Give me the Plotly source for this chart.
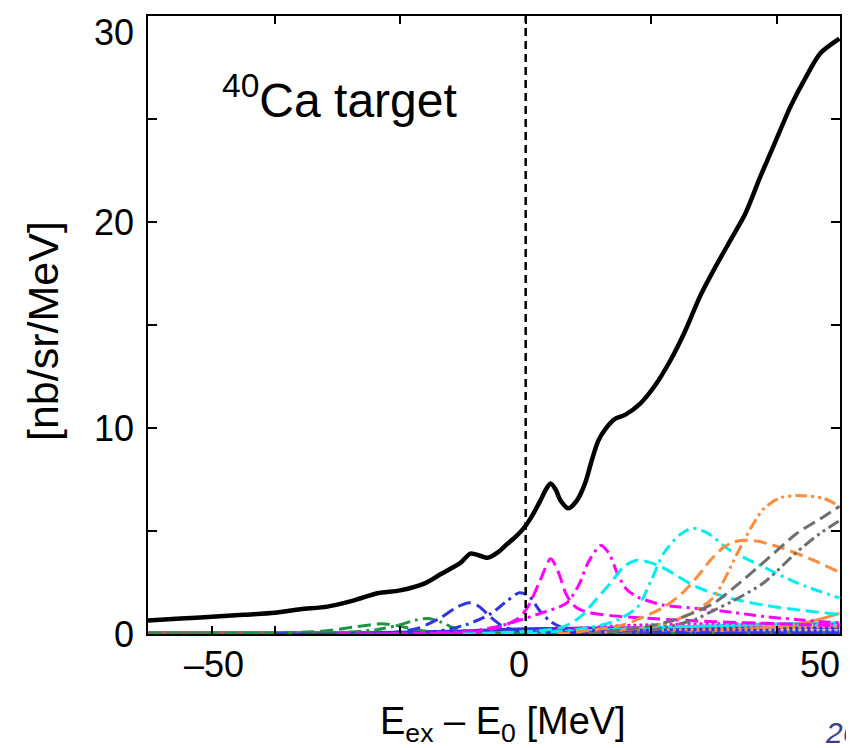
import plotly.graph_objects as go

# ---------------- data ----------------
E_TOTAL = [-60.2, -55, -50, -45, -40, -35.9, -31.6, -27.5, -23.6, -20, -16, -13.6, -10.4, -8.8, -7.3, -6.1,
           -4.5, -3.2, -1.5, -0.4, 0.75, 2.3, 3.2, 3.95, 4.8, 5.5, 6.8, 8.2, 9.5, 10.5, 11.6, 12.7, 14.3,
           15.9, 18.3, 20.7, 23.1, 25.4, 27.8, 30.3, 32.6, 35.0, 37.4, 39.8, 42.2, 44.6, 47.0, 50.0]
V_TOTAL = [0.66, 0.75, 0.84, 0.93, 1.03, 1.2, 1.33, 1.62, 1.98, 2.12, 2.47, 2.9, 3.45, 3.9, 3.8, 3.7,
           3.95, 4.3, 4.75, 5.1, 5.6, 6.45, 7.0, 7.3, 7.0, 6.5, 6.1, 6.5, 7.35, 8.4, 9.4, 9.95, 10.45,
           10.65, 11.2, 12.1, 13.3, 14.7, 16.4, 17.85, 19.1, 20.4, 22.2, 23.9, 25.6, 27.0, 28.2, 28.9]

G_DASH_E = [-60, -40, -32, -27, -23, -20, -17, -13, -8, 0, 20, 50]
G_DASH_V = [0.0, 0.04, 0.15, 0.35, 0.5, 0.38, 0.18, 0.06, 0.03, 0.02, 0.01, 0.01]
G_DD_E = [-60, -32, -24, -20, -17.5, -15.5, -13.5, -11.5, -9, -5, 10, 50]
G_DD_V = [0.0, 0.04, 0.2, 0.45, 0.68, 0.75, 0.58, 0.3, 0.12, 0.05, 0.02, 0.01]

B_DASH_E = [-40, -22, -17, -13.5, -11, -9, -7.5, -5.5, -3.5, -1, 5, 20, 50]
B_DASH_V = [0.0, 0.05, 0.3, 0.8, 1.3, 1.52, 1.35, 0.8, 0.35, 0.15, 0.08, 0.04, 0.02]
B_DD_E = [-40, -15, -9.5, -5.5, -3, -1, 0.5, 2.3, 4, 6, 10, 20, 50]
B_DD_V = [0.0, 0.1, 0.45, 1.0, 1.6, 2.0, 1.85, 1.1, 0.6, 0.3, 0.15, 0.08, 0.03]

M_DASH_E = [-30, -8, -4, -1, 0.5, 2.3, 4, 5.2, 6.5, 8, 10, 14, 20, 30, 40, 50]
M_DASH_V = [0.0, 0.1, 0.35, 0.8, 1.4, 2.6, 3.65, 3.0, 1.9, 1.3, 1.05, 0.88, 0.75, 0.6, 0.5, 0.4]
M_DD_E = [-30, -10, -4, 2.3, 6.5, 8.5, 10, 12, 13.3, 14.6, 16, 17.8, 22, 27, 33, 38, 44, 50]
M_DD_V = [0.0, 0.1, 0.4, 1.0, 1.5, 2.4, 3.5, 4.3, 3.9, 2.95, 2.2, 1.8, 1.4, 1.25, 1.05, 0.85, 0.68, 0.53]

C_DASH_E = [-10, 2, 6, 8.7, 11, 13.5, 15.8, 17.8, 20, 22, 27.3, 32.6, 38, 44, 50]
C_DASH_V = [0.0, 0.15, 0.35, 0.83, 1.6, 2.47, 3.3, 3.58, 3.45, 3.2, 2.28, 1.74, 1.4, 1.15, 0.95]
C_DD_E = [0, 10, 14.6, 17.8, 20, 22, 24.5, 26.5, 29, 32.6, 38, 43.3, 50]
C_DD_V = [0.0, 0.3, 0.68, 1.3, 2.6, 3.92, 4.8, 5.13, 4.9, 4.06, 3.24, 2.47, 1.75]

O_DASH_E = [5, 15, 18.8, 22, 25, 27.3, 29.5, 31.5, 33, 34.7, 37, 40.6, 45.9, 50]
O_DASH_V = [0.0, 0.4, 0.83, 1.3, 2.0, 2.76, 3.6, 4.2, 4.45, 4.55, 4.5, 4.2, 3.58, 3.0]
O_DDD_E = [10, 22, 26.3, 30, 33.7, 36, 38, 40.5, 43.3, 47.5, 50]
O_DDD_V = [0.0, 0.5, 1.0, 1.8, 3.9, 5.2, 6.1, 6.6, 6.72, 6.58, 6.2]

GR_DASH_E = [10, 20, 24.6, 30, 33, 38, 43.3, 47, 50]
GR_DASH_V = [0.0, 0.4, 0.77, 1.5, 2.2, 3.5, 4.9, 5.6, 6.2]
GR_DDD_E = [15, 22, 27.3, 30, 33, 38, 43.3, 47, 50]
GR_DDD_V = [0.0, 0.3, 0.75, 1.15, 1.6, 2.5, 4.0, 4.9, 5.5]

# small contributions along the bottom
LOW_B_E, LOW_B_V = [-30, -10, 0, 20, 50], [0.02, 0.15, 0.25, 0.3, 0.3]
LOW_C_E, LOW_C_V = [-10, 5, 20, 35, 50], [0.0, 0.1, 0.3, 0.45, 0.55]
LOW_O_E, LOW_O_V = [10, 30, 40, 46, 50], [0.0, 0.15, 0.35, 0.65, 1.0]
DOT_M_E, DOT_M_V = [0, 15, 30, 50], [0.1, 0.4, 0.5, 0.45]
DOT_C_E, DOT_C_V = [5, 20, 35, 50], [0.1, 0.3, 0.45, 0.4]
DOT_O_E, DOT_O_V = [10, 30, 50], [0.05, 0.25, 0.35]
DOT_B_E, DOT_B_V = [0, 25, 50], [0.1, 0.2, 0.15]
BASE_R_E, BASE_R_V = [-60.2, 50], [0.03, 0.05]
BASE_G_E, BASE_G_V = [-60.2, 50], [0.1, 0.12]

X_TICKS_BOTTOM = [-50, -40, -20, 0, 20, 40]
X_TICKS_TOP = [-40, -20, 0, 20, 40]
X_LABEL_VALUES = [-50, 0, 50]
X_LABEL_TEXT = ["\u201350", "0", "50"]
X_LABEL_SHIFT = [2, -7, -19]
Y_LABEL_VALUES = [0, 10, 20, 30]
Y_LABEL_TEXT = ["0", "10", "20", "30"]
Y_LABEL_SHIFT = [0, 0, 0, -16]
E_THRESHOLD = 0

# ---------------- styles ----------------
BLUE = "#2f35e6"
MAG = "#ff00ff"
CYAN = "#00eeee"
ORANGE = "#ff8c3a"
GRAY = "#6e6e6e"
GREEN = "#1e9447"
DASH = "13px,6px"
DASHDOT = "12px,5px,3px,5px"
DASHDOTDOT = "12px,4px,3px,4px,3px,4px"
DOT = "3px,3px"
FONT = "Liberation Sans, Arial, sans-serif"
LW = 3

fig = go.Figure()


def add(x, y, color, dash, width=LW):
    fig.add_trace(go.Scatter(x=x, y=y, mode="lines", showlegend=False, hoverinfo="skip",
                             line=dict(color=color, width=width, dash=dash, shape="spline", smoothing=0.8)))


add(BASE_G_E, BASE_G_V, "#777777", "solid", 2)
add(BASE_R_E, BASE_R_V, "#e0406a", "solid", 2)
add(LOW_B_E, LOW_B_V, BLUE, "solid")
add(LOW_C_E, LOW_C_V, CYAN, "solid")
add(LOW_O_E, LOW_O_V, ORANGE, "solid")
add(DOT_M_E, DOT_M_V, MAG, DOT)
add(DOT_C_E, DOT_C_V, CYAN, DOT)
add(DOT_O_E, DOT_O_V, ORANGE, DOT)
add(DOT_B_E, DOT_B_V, BLUE, DOT)

add(G_DASH_E, G_DASH_V, GREEN, DASH)
add(G_DD_E, G_DD_V, GREEN, DASHDOT)
add(B_DASH_E, B_DASH_V, BLUE, DASH)
add(B_DD_E, B_DD_V, BLUE, DASHDOT)
add(M_DASH_E, M_DASH_V, MAG, DASH)
add(M_DD_E, M_DD_V, MAG, DASHDOT)
add(C_DASH_E, C_DASH_V, CYAN, DASH)
add(C_DD_E, C_DD_V, CYAN, DASHDOT)
add(O_DASH_E, O_DASH_V, ORANGE, DASH)
add(O_DDD_E, O_DDD_V, ORANGE, DASHDOTDOT)
add(GR_DASH_E, GR_DASH_V, GRAY, DASH)
add(GR_DDD_E, GR_DDD_V, GRAY, DASHDOTDOT)

add(E_TOTAL, V_TOTAL, "black", "solid", 4.5)

# invisible trace for top axis
fig.add_trace(go.Scatter(x=[E_THRESHOLD], y=[0], xaxis="x2", mode="markers", marker=dict(opacity=0),
                         showlegend=False, hoverinfo="skip"))

fig.add_shape(type="line", xref="x", yref="paper", x0=E_THRESHOLD, x1=E_THRESHOLD, y0=0, y1=1,
              line=dict(color="black", width=2.5, dash="8px,5px"))

X_RANGE = [-60.2, 50.1]
# the page adds an 8px body margin, so the figure is 8px smaller on each axis
fig.update_layout(
    width=846, height=740,
    margin=dict(l=140, r=14, t=6, b=114),
    paper_bgcolor="white", plot_bgcolor="white",
    xaxis=dict(range=X_RANGE, showgrid=False, zeroline=False, showline=True, linecolor="black",
               linewidth=2, mirror=True, ticks="inside", ticklen=8, tickwidth=1.5, tickcolor="black",
               tickvals=X_TICKS_BOTTOM, showticklabels=False),
    xaxis2=dict(range=X_RANGE, overlaying="x", side="top", anchor="y", showgrid=False, zeroline=False,
                showline=False, ticks="inside", ticklen=8, tickwidth=1.5, tickcolor="black",
                tickvals=X_TICKS_TOP, showticklabels=False),
    yaxis=dict(range=[0, 30], showgrid=False, zeroline=False, showline=True, linecolor="black",
               linewidth=2, mirror="ticks", ticks="inside", ticklen=9, tickwidth=1.5, tickcolor="black",
               dtick=5, showticklabels=False),
)

for v, t, s in zip(X_LABEL_VALUES, X_LABEL_TEXT, X_LABEL_SHIFT):
    fig.add_annotation(x=v, y=-0.05, xref="x", yref="paper", text=t, showarrow=False, xshift=s,
                       xanchor="center", yanchor="middle", font=dict(family=FONT, size=36, color="black"))
for v, t, s in zip(Y_LABEL_VALUES, Y_LABEL_TEXT, Y_LABEL_SHIFT):
    fig.add_annotation(x=-0.017, y=v, xref="paper", yref="y", text=t, showarrow=False, yshift=s,
                       xanchor="right", yanchor="middle", font=dict(family=FONT, size=36, color="black"))

fig.add_annotation(x=0.513, y=-0.145, xref="paper", yref="paper", showarrow=False,
                   text="E<sub>ex</sub> \u2013 E<sub>0</sub> [MeV]", xanchor="center", yanchor="middle",
                   font=dict(family=FONT, size=38, color="black"))
fig.add_annotation(x=-0.152, y=0.49, xref="paper", yref="paper", showarrow=False, textangle=-90,
                   text="[nb/sr/MeV]", xanchor="center", yanchor="middle",
                   font=dict(family=FONT, size=43, color="black"))
fig.add_annotation(x=0.104, y=0.869, xref="paper", yref="paper", showarrow=False,
                   text="<sup>40</sup>Ca target", xanchor="left", yanchor="middle",
                   font=dict(family=FONT, size=48, color="black"))

# slide background strip and page number
fig.add_shape(type="rect", xref="paper", yref="paper", x0=1.0105, x1=1.04, y0=-0.2, y1=1.01,
              fillcolor="#c8d8f0", line=dict(width=0), layer="above")
fig.add_annotation(x=0.976, y=-0.13, xref="paper", yref="paper", showarrow=False, text="<i>26</i>",
                   xanchor="left", yanchor="top", font=dict(family=FONT, size=30, color="#3b3b8f"))

fig.write_html("out.html")
